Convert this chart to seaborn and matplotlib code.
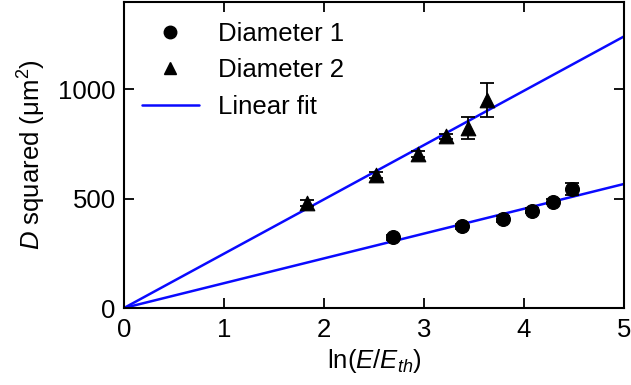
import numpy as np
import pandas as pd
import matplotlib
matplotlib.use("Agg")
import matplotlib.pyplot as plt
import seaborn as sns
from matplotlib.lines import Line2D

# Diameter 1 (circles)
x1 = [2.69, 3.38, 3.79, 4.08, 4.29, 4.48]
y1 = [324, 374, 408, 445, 486, 544]
e1 = [12, 12, 14, 12, 12, 28]

# Diameter 2 (triangles)
x2 = [1.83, 2.52, 2.94, 3.22, 3.44, 3.63]
y2 = [480, 609, 703, 786, 824, 953]
e2 = [14, 14, 14, 12, 50, 77]

# linear fits through origin
slope1 = 113.5
slope2 = 248.5
fit_x = [0, 5]

blue = "#0a0aff"

sns.set_style("ticks")
plt.rcParams["font.family"] = ["Liberation Sans", "DejaVu Sans"]
plt.rcParams["mathtext.fontset"] = "custom"
plt.rcParams["mathtext.it"] = "Liberation Sans:italic"
plt.rcParams["mathtext.rm"] = "Liberation Sans"
plt.rcParams["text.color"] = "black"
plt.rcParams["axes.labelcolor"] = "black"
plt.rcParams["xtick.color"] = "black"
plt.rcParams["ytick.color"] = "black"

fig = plt.figure(figsize=(6.31, 3.85), dpi=100)
ax = fig.add_axes([124 / 631, 77 / 385, 500 / 631, 306 / 385])

fit = pd.DataFrame({
    "x": fit_x * 2,
    "y": [slope1 * v for v in fit_x] + [slope2 * v for v in fit_x],
    "set": ["1", "1", "2", "2"],
})
sns.lineplot(data=fit, x="x", y="y", units="set", estimator=None, color=blue,
             lw=1.8, ax=ax, label=None, zorder=2)

ax.errorbar(x1, y1, yerr=e1, fmt="none", ecolor="black", elinewidth=1.3, capsize=5, capthick=1.3, zorder=3)
ax.errorbar(x2, y2, yerr=e2, fmt="none", ecolor="black", elinewidth=1.3, capsize=5, capthick=1.3, zorder=3)
sns.scatterplot(x=x1, y=y1, marker="o", s=100, color="black", edgecolor="black", ax=ax, zorder=4)
sns.scatterplot(x=x2, y=y2, marker="^", s=110, color="black", edgecolor="black", ax=ax, zorder=4)

ax.set_xlim(0, 5)
ax.set_ylim(0, 1400)
ax.set_xticks([0, 1, 2, 3, 4, 5])
ax.set_yticks([0, 500, 1000])
ax.tick_params(direction="in", top=True, right=True, length=7, width=1.3, labelsize=18.5)
ax.tick_params(axis="x", pad=7)
ax.tick_params(axis="y", pad=6)
for s in ax.spines.values():
    s.set_linewidth(1.5)
    s.set_color("black")

ax.set_xlabel(r"ln($\it{E}$/$\it{E_{th}}$)", fontsize=18.5, labelpad=4)
ax.set_ylabel(r"$\it{D}$ squared (μm$^2$)", fontsize=18.5, labelpad=7)

handles = [
    Line2D([], [], marker="o", ls="none", color="black", markersize=9),
    Line2D([], [], marker="^", ls="none", color="black", markersize=9),
    Line2D([], [], color=blue, lw=1.8),
]
ax.legend(handles, ["Diameter 1", "Diameter 2", "Linear fit"], loc="upper left", frameon=False,
          fontsize=18.5, handlelength=2.2, handletextpad=0.75, labelspacing=0.5,
          borderaxespad=0.3, bbox_to_anchor=(0.0, 0.995))

fig.savefig("out.png", dpi=100)
